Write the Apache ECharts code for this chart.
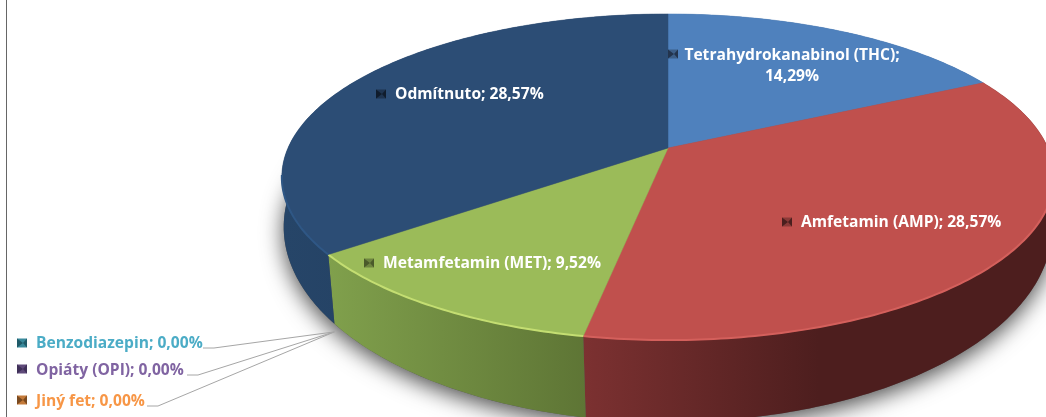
<!DOCTYPE html>
<html>
<head>
<meta charset="utf-8">
<style>
  html, body { margin: 0; padding: 0; background: #fff; }
  #main { width: 1046px; height: 417px; }
</style>
</head>
<body>
<div id="main"></div>
<script src="https://cdn.jsdelivr.net/npm/echarts@6/dist/echarts.min.js"></script>
<script>
// data (the percentages do not add up to 100, Excel still fills the whole pie)
var categories = ["Tetrahydrokanabinol (THC)", "Amfetamin (AMP)", "Metamfetamin (MET)", "Benzodiazepin", "Opiáty (OPI)", "Jiný fet", "Odmítnuto"];
var values = [14.29, 28.57, 9.52, 0, 0, 0, 28.57];

var topColors = ["#4f81bd", "#c0504d", "#9bbb59", "#4bacc6", "#8064a2", "#f79646", "#2c4d75"];
var wallFrom = ["#3b6190", "#7c3131", "#80a04c", "#2f7a8c", "#5c4776", "#b86e2e", "#264568"];
var wallTo = ["#3b6190", "#4d1e1e", "#5e7535", "#2f7a8c", "#5c4776", "#b86e2e", "#20395a"];
var rimColors = ["#5b8fcc", "#d4605c", "#c4de72", "#4bacc6", "#8064a2", "#f79646", "#2f5785"];
var markerMid = ["#3d5f88", "#8a3a38", "#6e8540", "#3a8a9c", "#5f4a7a", "#c47a3a", "#1e3450"];
var markerDark = ["#23344d", "#4a1f1e", "#4a5a2a", "#1f5a68", "#3f3058", "#7a4a20", "#101c2c"];

// marker centre, then text anchor; outside labels are the ones with a leader line
var labelSpots = [
  { mx: 673, my: 54, tx: 792, ty: 66, align: "center", inside: true },
  { mx: 787, my: 222, tx: 801, ty: 223, align: "left", inside: true },
  { mx: 369, my: 263, tx: 383, ty: 264, align: "left", inside: true },
  { mx: 22, my: 343, tx: 36, ty: 344, align: "left", lx: 203, ly: 348 },
  { mx: 22, my: 369, tx: 36, ty: 371, align: "left", lx: 187, ly: 375 },
  { mx: 22, my: 400, tx: 36, ty: 402, align: "left", lx: 147, ly: 406 },
  { mx: 381, my: 94, tx: 395, ty: 95, align: "left", inside: true }
];

// perspective of the pie plane
var apexX = 668, apexY = 148, scaleU = 380, scaleV = 157.9, persp = 0.178;

var total = values.reduce(function (a, b) { return a + b; }, 0);
var angles = [0];
values.forEach(function (v, i) {
  angles.push(angles[i] + v / total * Math.PI * 2);
});

function topPoint(t) {
  var u = Math.sin(t), v = -Math.cos(t);
  var w = 1 - persp * v;
  return [apexX + scaleU * u / w, apexY + scaleV * v / w];
}

function wallPoint(t) {
  var p = topPoint(t);
  var v = -Math.cos(t);
  var shrink = 1 - 0.03 * Math.max(v, 0);
  return [apexX + (p[0] - apexX) * shrink, p[1] + 50 + 32 * v];
}

function arc(fn, a, b) {
  var pts = [], n = Math.max(2, Math.ceil((b - a) / 0.015));
  for (var i = 0; i <= n; i++) {
    pts.push(fn(a + (b - a) * i / n));
  }
  return pts;
}

function renderShadow() {
  return {
    type: "polygon",
    shape: { points: arc(wallPoint, 0, Math.PI * 2) },
    style: { fill: "#555", shadowBlur: 22, shadowOffsetY: 6, shadowColor: "rgba(0,0,0,0.7)" }
  };
}

function renderWall(params) {
  var i = params.dataIndex;
  if (!values[i]) return null;
  var top = arc(topPoint, angles[i], angles[i + 1]);
  var low = arc(wallPoint, angles[i], angles[i + 1]).reverse();
  // gradient runs right to left; the red wall goes dark halfway round and stays dark
  var stops = i === 1
    ? [{ offset: 1, color: wallFrom[i] }, { offset: 0.5, color: wallTo[i] }, { offset: 0, color: wallTo[i] }]
    : [{ offset: 1, color: wallFrom[i] }, { offset: 0, color: wallTo[i] }];
  return {
    type: "polygon",
    shape: { points: top.concat(low) },
    style: { fill: new echarts.graphic.LinearGradient(1, 0, 0, 0, stops) }
  };
}

function renderTop(params) {
  var i = params.dataIndex;
  if (!values[i]) return null;
  var pts = [[apexX, apexY]].concat(arc(topPoint, angles[i], angles[i + 1]));
  var rim = arc(topPoint, angles[i], angles[i + 1]).filter(function (p) {
    return p[1] > apexY + 25;
  });
  var children = [{
    type: "polygon",
    shape: { points: pts },
    style: { fill: topColors[i], stroke: topColors[i], lineWidth: 0.5 }
  }];
  if (rim.length > 1) {
    children.push({
      type: "polyline",
      shape: { points: rim },
      style: { fill: null, stroke: rimColors[i], lineWidth: 2 }
    });
  }
  return { type: "group", children: children };
}

function labelText(i) {
  var pct = values[i].toFixed(2).replace(".", ",") + "%";
  return categories[i] + ";" + (i === 0 ? "\n" : " ") + pct;
}

function renderLabel(params) {
  var i = params.dataIndex, s = labelSpots[i];
  var children = [
    { type: "rect", shape: { x: s.mx - 5, y: s.my - 4.5, width: 10, height: 9 }, style: { fill: markerMid[i] } },
    {
      type: "polygon",
      shape: { points: [[s.mx - 5, s.my - 4.5], [s.mx + 1, s.my], [s.mx + 5, s.my - 4.5], [s.mx + 5, s.my + 4.5], [s.mx + 1, s.my], [s.mx - 5, s.my + 4.5]] },
      style: { fill: markerDark[i] }
    },
    {
      type: "text",
      x: s.tx,
      y: s.ty,
      style: {
        text: labelText(i),
        fill: s.inside ? "#fff" : topColors[i],
        font: "700 15.6px 'Open Sans'",
        lineHeight: 21,
        align: s.align,
        verticalAlign: "middle"
      }
    }
  ];
  if (!s.inside) {
    var a = wallPoint(angles[i]);
    children.unshift({
      type: "polyline",
      shape: { points: [[s.lx, s.ly], [s.lx + 11, s.ly], [a[0], a[1] + 8]] },
      style: { fill: null, stroke: "#a6a6a6", lineWidth: 1 }
    });
  }
  return { type: "group", children: children };
}

var idx = categories.map(function (c, i) { return i; });

var myChart = echarts.init(document.getElementById("main"), null, { renderer: "canvas" });
myChart.setOption({
  animation: false,
  backgroundColor: "#fff",
  tooltip: { show: false },
  graphic: [{
    type: "rect",
    shape: { x: 6, y: 0, width: 1, height: 417 },
    style: { fill: "#666" }
  }],
  series: [
    { type: "custom", coordinateSystem: "none", silent: true, data: [0], renderItem: renderShadow },
    { type: "custom", coordinateSystem: "none", silent: true, data: idx, renderItem: renderWall },
    { type: "custom", coordinateSystem: "none", silent: true, data: idx, renderItem: renderTop },
    { type: "custom", coordinateSystem: "none", silent: true, data: idx, renderItem: renderLabel }
  ]
});
</script>
</body>
</html>
